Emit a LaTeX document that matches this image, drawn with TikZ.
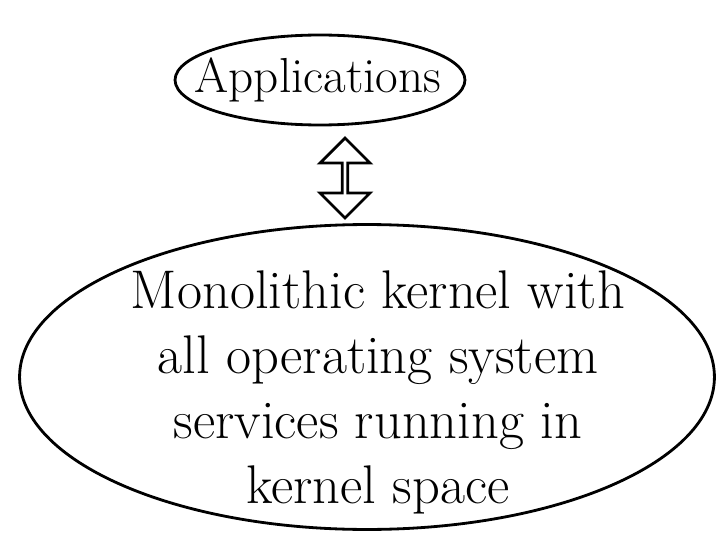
\documentclass[tikz,border=0pt]{standalone}
\usetikzlibrary{shapes.geometric,shapes.arrows}
\begin{document}
\begin{tikzpicture}[x=0.02cm,y=-0.02cm,
  bubble/.style={ellipse,draw=black,line width=1.6pt,inner sep=0pt,align=center},
  link/.style={double arrow,draw=black,line width=1.6pt,rotate=90,inner sep=0pt,
    minimum width=1.0cm,double arrow head extend=0.22cm}]
\useasboundingbox (0,0) rectangle (720,537);
\node[bubble,minimum width=5.8cm,minimum height=1.8cm] (app) at (320,80) {};
\node[font=\fontsize{28}{32}\selectfont] (apptxt) at (318,80) {Applications};
\node[bubble,minimum width=13.9cm,minimum height=6.1cm] (kern) at (367,377) {};
\node[font=\fontsize{31}{37}\selectfont,align=center] (ktxt) at (378,392) {Monolithic kernel with\\all operating system\\services running in\\kernel space};
\node[link,minimum height=1.6cm] (arr) at (345,178) {};
\end{tikzpicture}
\end{document}
